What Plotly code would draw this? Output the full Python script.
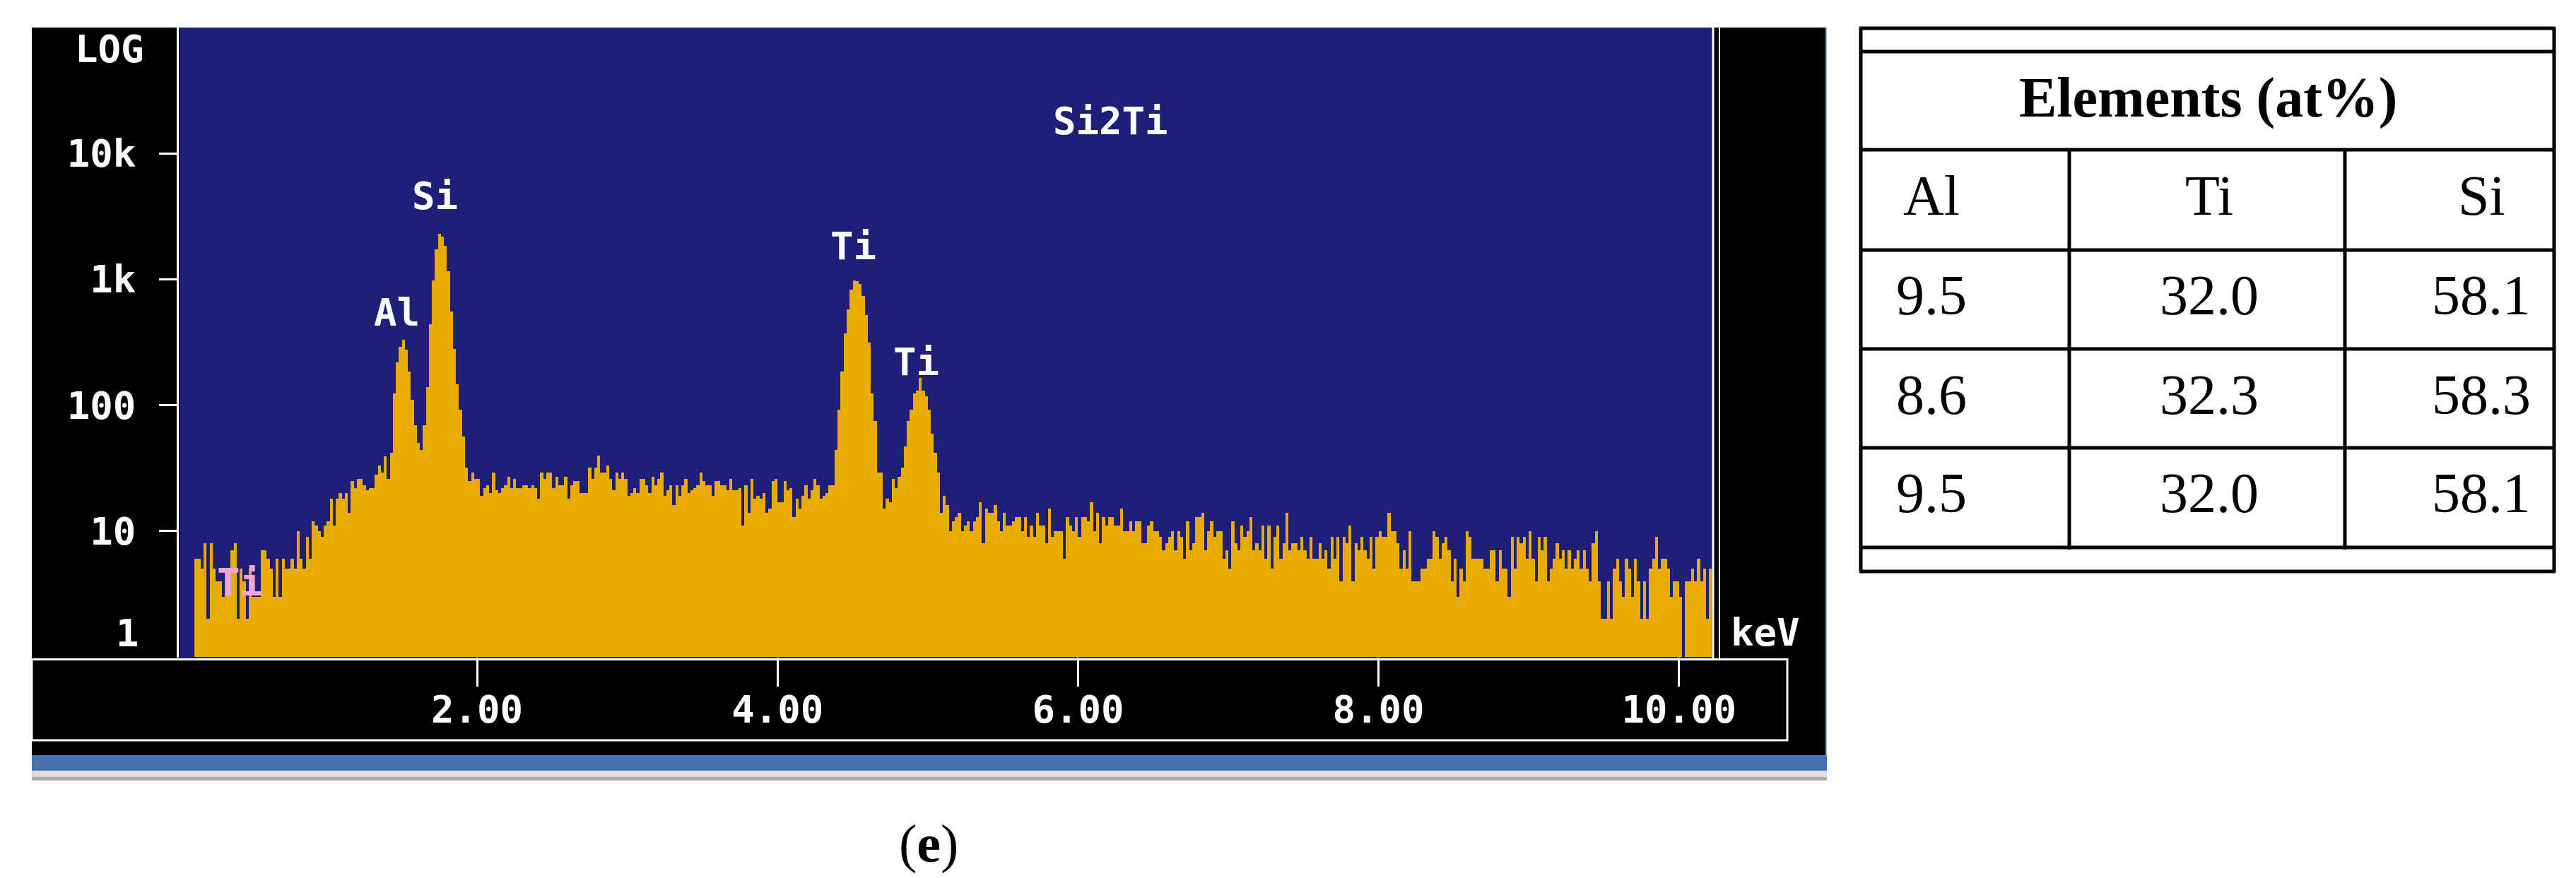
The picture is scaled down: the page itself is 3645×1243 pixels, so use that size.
import plotly.graph_objects as go

# ---------------- data ----------------
channel_start_kev = 0.12
channel_width_kev = 0.02
counts = [
    6, 6, 5, 8, 2, 8, 5, 4, 4, 3, 5, 5, 7, 8, 2, 5, 4, 2, 5, 3,
    3, 3, 7, 7, 6, 5, 3, 6, 3, 6, 5, 5, 6, 5, 10, 6, 5, 9, 6, 12,
    11, 10, 9, 11, 12, 18, 11, 18, 20, 18, 20, 14, 25, 22, 26, 26, 23, 21, 22, 22,
    28, 33, 29, 39, 26, 42, 124, 220, 290, 330, 276, 185, 111, 69, 50, 44, 69, 139, 440, 980,
    1740, 2300, 2190, 1840, 1165, 555, 278, 147, 92, 56, 32, 25, 29, 26, 26, 19, 22, 23, 20, 29,
    21, 20, 22, 23, 27, 22, 26, 22, 22, 23, 23, 22, 23, 22, 18, 29, 26, 29, 29, 22,
    27, 23, 23, 27, 18, 23, 25, 25, 20, 20, 20, 32, 26, 32, 40, 29, 29, 33, 26, 21,
    29, 26, 29, 26, 19, 20, 22, 20, 26, 26, 23, 20, 27, 23, 26, 29, 19, 21, 23, 16,
    23, 19, 23, 26, 20, 21, 22, 23, 29, 25, 23, 23, 19, 25, 25, 23, 23, 21, 26, 21,
    21, 22, 11, 23, 14, 26, 18, 19, 18, 20, 14, 15, 25, 26, 17, 17, 25, 21, 22, 13,
    18, 15, 19, 23, 18, 21, 26, 23, 18, 19, 20, 23, 23, 44, 92, 185, 372, 580, 825, 985,
    970, 920, 733, 522, 313, 124, 75, 29, 29, 15, 18, 17, 26, 22, 27, 32, 47, 75, 92, 124,
    131, 164, 131, 117, 92, 59, 42, 29, 14, 19, 16, 10, 12, 13, 14, 10, 11, 12, 10, 12,
    13, 17, 8, 15, 14, 14, 16, 12, 10, 14, 11, 11, 12, 13, 13, 10, 13, 9, 11, 9,
    14, 11, 11, 8, 15, 9, 10, 10, 10, 6, 13, 11, 10, 13, 9, 13, 13, 12, 17, 10,
    14, 8, 13, 11, 13, 13, 11, 11, 15, 10, 10, 12, 10, 12, 12, 8, 8, 11, 12, 10,
    10, 9, 7, 8, 9, 10, 7, 10, 9, 6, 12, 7, 8, 13, 13, 14, 7, 10, 12, 9,
    10, 10, 6, 7, 5, 12, 8, 7, 11, 9, 10, 13, 7, 8, 7, 11, 6, 11, 5, 9,
    11, 6, 8, 14, 7, 8, 8, 7, 9, 7, 6, 9, 6, 6, 8, 6, 7, 5, 9, 6,
    9, 4, 9, 8, 11, 4, 8, 7, 9, 7, 6, 9, 5, 9, 10, 9, 9, 14, 10, 10,
    8, 5, 7, 5, 10, 4, 4, 4, 5, 5, 6, 6, 10, 9, 6, 8, 9, 7, 4, 6,
    3, 5, 4, 10, 9, 6, 6, 6, 6, 5, 5, 7, 7, 4, 7, 5, 5, 3, 9, 5,
    9, 8, 9, 6, 10, 6, 4, 9, 7, 9, 4, 5, 6, 8, 6, 7, 5, 7, 5, 6,
    7, 5, 7, 5, 4, 8, 10, 4, 2, 2, 4, 2, 5, 6, 4, 3, 6, 5, 3, 6,
    4, 2, 4, 2, 5, 6, 9, 5, 6, 6, 5, 3, 4, 4, 3, 0, 4, 4, 5, 4,
    6, 4, 5, 2, 5, 3, 5,
]
energies = [channel_start_kev + channel_width_kev * (i + 0.5) for i in range(len(counts))]

x_tick_vals = [2, 4, 6, 8, 10]
x_tick_text = ["2.00", "4.00", "6.00", "8.00", "10.00"]
y_tick_vals = [10, 100, 1000, 10000]
y_tick_text = ["10", "100", "1k", "10k"]

peak_labels = ["Al", "Si", "Ti", "Ti"]
peak_label_kev = [1.464, 1.722, 4.503, 4.921]
peak_label_log = [2.735, 3.661, 3.262, 2.342]

sample_name = "Si2Ti"

table_title = "Elements (at%)"
table_columns = ["Al", "Ti", "Si"]
table_al = ["9.5", "8.6", "9.5"]
table_ti = ["32.0", "32.3", "32.0"]
table_si = ["58.1", "58.3", "58.1"]

caption = "(<b>e</b>)"

# ---------------- styling / layout ----------------
W, H = 3645, 1243
NAVY = "#1F1F77"
GOLD = "#E8AC00"
MONO = "DejaVu Sans Mono"
SERIF = "Liberation Serif"


def px(x):
    return x / W


def py(y):
    return 1 - y / H


PLOT_L, PLOT_R, PLOT_T, PLOT_B = 246, 2414, 31, 922

fig = go.Figure()
fig.add_trace(go.Bar(
    x=energies, y=counts, width=channel_width_kev,
    marker=dict(color=GOLD, line=dict(width=0)),
    hoverinfo="skip", showlegend=False,
))

shapes = []


def rect(x0, y0, x1, y1, fill=None, line_color=None, lw=0, layer="below"):
    shapes.append(dict(
        type="rect", xref="paper", yref="paper",
        x0=px(x0), x1=px(x1), y0=py(y1), y1=py(y0),
        fillcolor=fill if fill else "rgba(0,0,0,0)",
        line=dict(color=line_color if line_color else "rgba(0,0,0,0)", width=lw),
        layer=layer,
    ))


def hline(x0, x1, y, color, lw, layer="above"):
    shapes.append(dict(type="line", xref="paper", yref="paper",
                       x0=px(x0), x1=px(x1), y0=py(y), y1=py(y),
                       line=dict(color=color, width=lw), layer=layer))


def vline(x, y0, y1, color, lw, layer="above"):
    shapes.append(dict(type="line", xref="paper", yref="paper",
                       x0=px(x), x1=px(x), y0=py(y0), y1=py(y1),
                       line=dict(color=color, width=lw), layer=layer))


# instrument screen frame
rect(37, 31, 2575, 1061, fill="black")
rect(PLOT_L, PLOT_T, PLOT_R, PLOT_B + 2, fill=NAVY)
rect(37, 1061, 2577, 1083, fill="#4472AE")
rect(37, 1083, 2577, 1092, fill="#DCDCDC")
rect(37, 1092, 2577, 1097, fill="#ABABAB")
vline(2575.5, 31, 1061, "#4472AE", 2, layer="below")
# white separators
vline(243.5, 31, 923, "white", 3)
vline(2416, 31, 925, "white", 3)
vline(2425, 31, 925, "white", 2)
# x-axis box
rect(37, 925.5, 2521, 1040, line_color="white", lw=3, layer="above")

# table lines
TL, TR = 2625, 3606
for yy in [32, 65, 204, 346, 486, 626, 767, 801]:
    hline(TL - 2, TR + 2, yy, "black", 5)
vline(TL, 32, 801, "black", 5)
vline(TR, 32, 801, "black", 5)
vline(2920, 204, 770, "black", 5)
vline(3310, 204, 770, "black", 5)

annotations = []


def ann(text, x, y, size, family, color, xanchor="center", weight="normal", xref="paper", yref="paper"):
    annotations.append(dict(
        text=text, x=x, y=y, xref=xref, yref=yref, showarrow=False,
        xanchor=xanchor, yanchor="middle",
        font=dict(family=family, size=size, color=color, weight=weight),
    ))


# screen texts
ann("LOG", px(147), py(62), 54, MONO, "white", weight="bold")
ann("1", px(191), py(888), 54, MONO, "white", xanchor="right", weight="bold")
ann("keV", px(2490), py(887), 54, MONO, "white", weight="bold")
ann(sample_name, 6.215, 4.256, 54, MONO, "white", weight="bold", xref="x", yref="y")
for t, xk, yl in zip(peak_labels, peak_label_kev, peak_label_log):
    ann(t, xk, yl, 54, MONO, "white", weight="bold", xref="x", yref="y")
ann("Ti", 0.424, 0.59, 54, MONO, "#F4A6D2", weight="bold", xref="x", yref="y")

# table texts
col_x = [2725, 3118, 3503]
ann(table_title, px(3116), py(131), 80, SERIF, "black", weight="bold")
for cx, name in zip(col_x, table_columns):
    ann(name, px(cx), py(269), 80, SERIF, "black")
row_y = [410, 551, 690]
for ry, a, t, s in zip(row_y, table_al, table_ti, table_si):
    ann(a, px(col_x[0]), py(ry), 80, SERIF, "black")
    ann(t, px(col_x[1]), py(ry), 80, SERIF, "black")
    ann(s, px(col_x[2]), py(ry), 80, SERIF, "black")

ann(caption, px(1306), py(1186), 76, SERIF, "black")

fig.update_layout(
    width=W, height=H,
    margin=dict(l=0, r=0, t=0, b=0, pad=0),
    paper_bgcolor="white",
    plot_bgcolor="rgba(0,0,0,0)",
    bargap=0,
    showlegend=False,
    shapes=shapes,
    annotations=annotations,
    xaxis=dict(
        domain=[px(PLOT_L), px(PLOT_R)],
        range=[(PLOT_L - 241.8) / 212.6, (PLOT_R - 241.8) / 212.6],
        tickvals=x_tick_vals, ticktext=x_tick_text,
        ticks="outside", ticklen=41, tickwidth=3, tickcolor="white",
        tickfont=dict(family=MONO, size=54, color="white", weight="bold"),
        ticklabelstandoff=-14,
        showgrid=False, zeroline=False, showline=False, automargin=False,
        fixedrange=True,
    ),
    yaxis=dict(
        domain=[py(PLOT_B), py(PLOT_T)],
        type="log", range=[0, 5.0],
        tickvals=y_tick_vals, ticktext=y_tick_text,
        ticks="outside", ticklen=28, tickwidth=3, tickcolor="white",
        tickfont=dict(family=MONO, size=54, color="white", weight="bold"),
        ticklabelstandoff=22,
        showgrid=False, zeroline=False, showline=False, automargin=False,
        fixedrange=True,
    ),
)

fig.write_html("out.html")
